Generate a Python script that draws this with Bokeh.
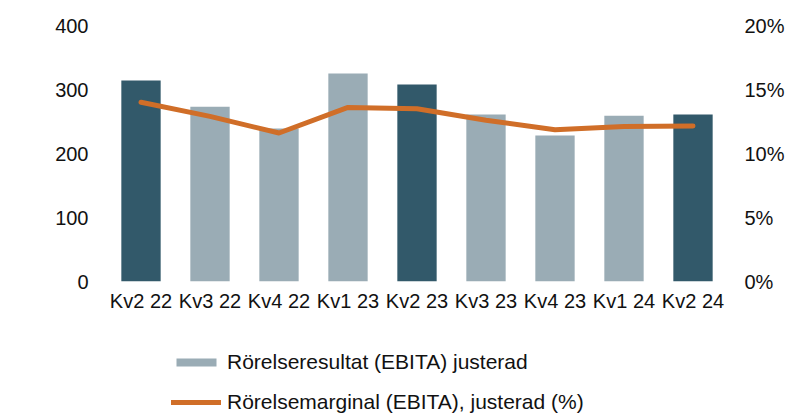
from bokeh.plotting import figure
from bokeh.layouts import column
from bokeh.models import (ColumnDataSource, FactorRange, Range1d, LinearAxis, FixedTicker,
                          PrintfTickFormatter, Legend, LegendItem)
from bokeh.embed import file_html
from bokeh.resources import INLINE

categories = ["Kv2 22", "Kv3 22", "Kv4 22", "Kv1 23", "Kv2 23", "Kv3 23", "Kv4 23", "Kv1 24", "Kv2 24"]
ebita = [314, 273, 239, 325, 308, 261, 228, 259, 261]
margin_pct = [14.0, 12.9, 11.6, 13.6, 13.5, 12.6, 11.85, 12.1, 12.15]
left_ticks = [0, 100, 200, 300, 400]
right_ticks = [0, 5, 10, 15, 20]
legend_labels = ["Rörelseresultat (EBITA) justerad", "Rörelsemarginal (EBITA), justerad (%)"]

DARK = "#32596A"
LIGHT = "#9AACB5"
ORANGE = "#D06E28"
FONT = "Liberation Sans"
TXT = "#111111"

colors = [DARK if c.startswith("Kv2") else LIGHT for c in categories]
src = ColumnDataSource(dict(cat=categories, ebita=ebita, margin=margin_pct, color=colors))

p = figure(width=788, height=320, x_range=FactorRange(*categories), y_range=Range1d(0, 400),
           output_backend="svg", toolbar_location=None,
           min_border_left=106, min_border_right=61, min_border_top=25, min_border_bottom=39)
p.extra_y_ranges = {"pct": Range1d(0, 20)}
p.outline_line_color = None
p.grid.visible = False

p.vbar(x="cat", top="ebita", width=0.57, source=src, fill_color="color", line_color=None)
p.line(x="cat", y="margin", source=src, y_range_name="pct", line_color=ORANGE,
       line_width=5, line_cap="round", line_join="round")

def style_axis(ax):
    ax.axis_line_color = None
    ax.major_tick_line_color = None
    ax.minor_tick_line_color = None
    ax.major_tick_out = 0
    ax.major_tick_in = 0
    ax.minor_tick_out = 0
    ax.axis_label_standoff = 0
    ax.major_label_text_font = FONT
    ax.major_label_text_font_size = "20px"
    ax.major_label_text_color = TXT

style_axis(p.xaxis[0])
p.xaxis[0].major_label_standoff = 8

yl = p.yaxis[0]
yl.ticker = FixedTicker(ticks=left_ticks)
style_axis(yl)
yl.major_label_standoff = 18

yr = LinearAxis(y_range_name="pct", ticker=FixedTicker(ticks=right_ticks),
                formatter=PrintfTickFormatter(format="%d%%"))
style_axis(yr)
yr.major_label_standoff = 17
p.add_layout(yr, "right")

# Legend figure below: same data, glyphs lie outside its view, only the legend shows
lg = figure(width=788, height=94, x_range=FactorRange(*categories), y_range=Range1d(1000, 2000),
            output_backend="svg", toolbar_location=None, x_axis_location=None, y_axis_location=None,
            min_border=0)
lg.outline_line_color = None
lg.grid.visible = False
lbars = lg.vbar(x="cat", top="ebita", width=0.57, source=src, fill_color="color", line_color=None)
lline = lg.line(x="cat", y="margin", source=src, line_color=ORANGE,
                line_width=5, line_cap="round", line_join="round")
legend = Legend(items=[LegendItem(label=legend_labels[0], renderers=[lbars], index=1),
                       LegendItem(label=legend_labels[1], renderers=[lline])],
                location=(65, 0), orientation="vertical",
                glyph_width=50, glyph_height=10, label_standoff=6, label_height=20,
                label_text_font=FONT, label_text_font_size="21px", label_text_color=TXT,
                spacing=16, padding=0, margin=0,
                border_line_color=None, background_fill_alpha=0)
lg.add_layout(legend, "center")

open("out.html", "w").write(file_html(column(p, lg, spacing=0), INLINE))
